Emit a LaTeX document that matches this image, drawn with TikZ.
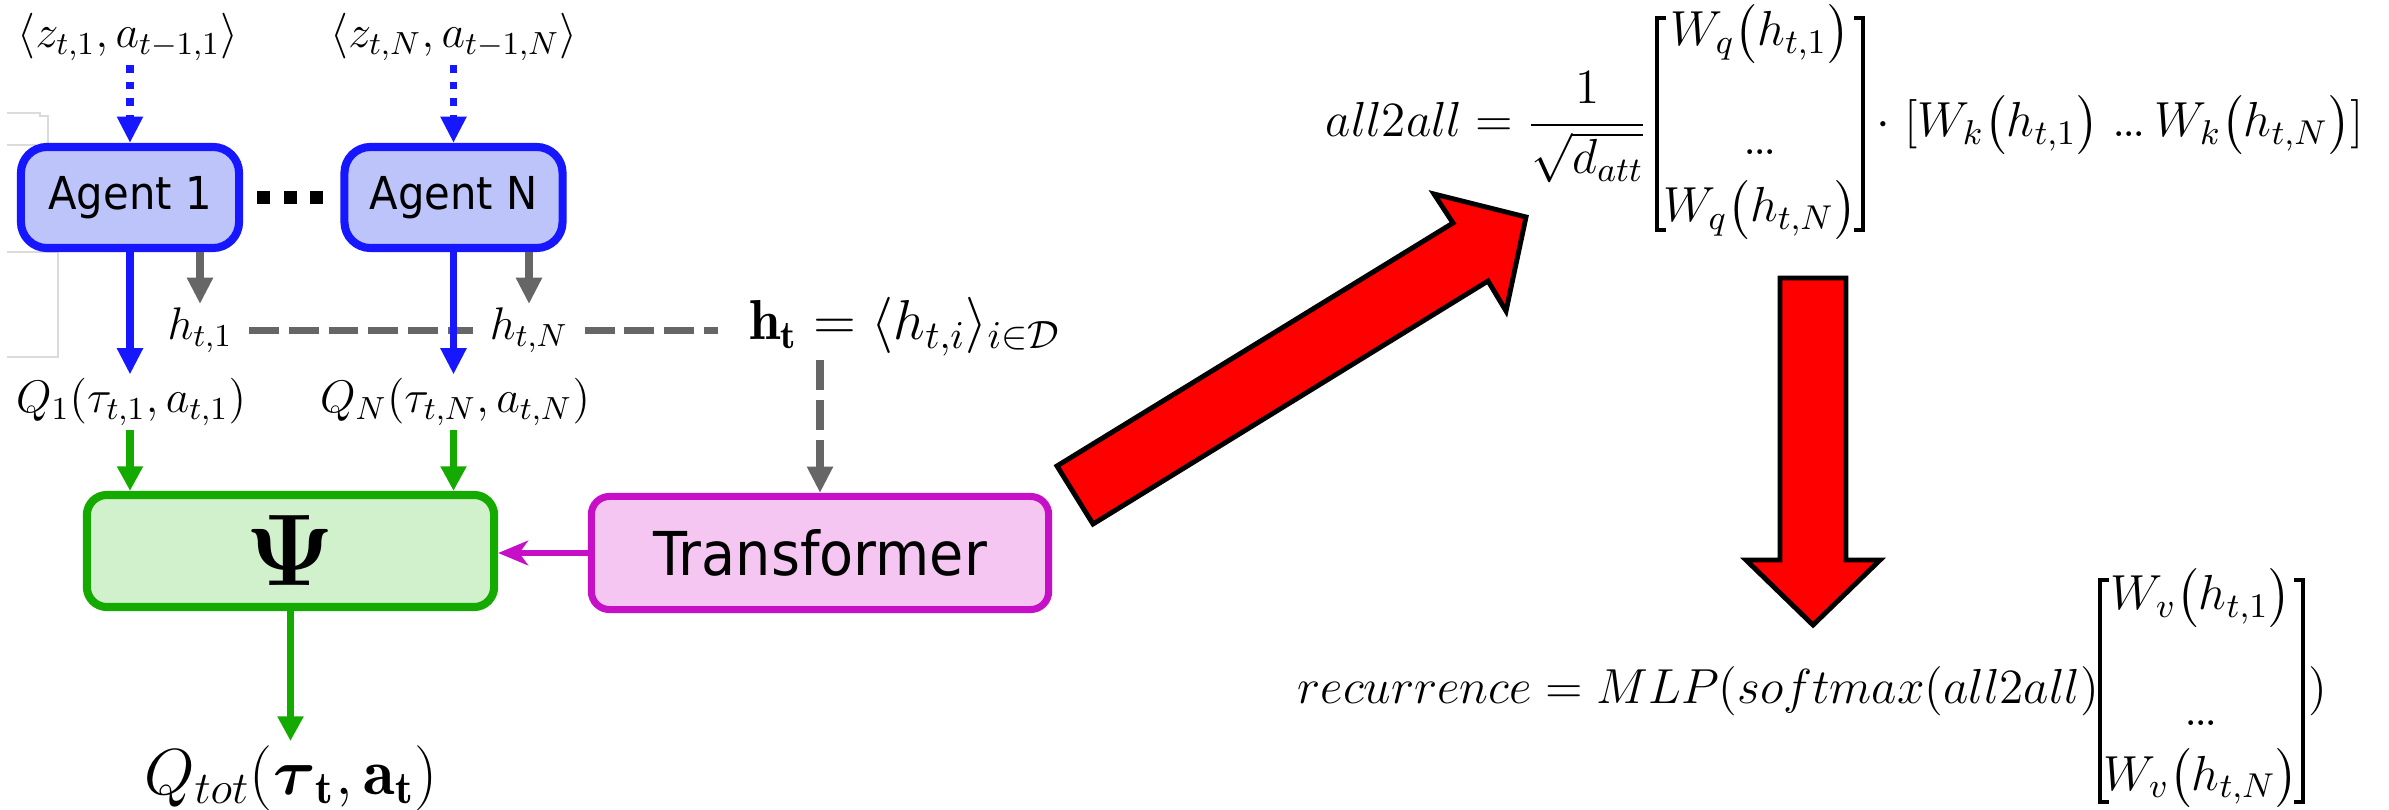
\RequirePackage{fix-cm}
\documentclass[tikz,border=0pt]{standalone}
\usepackage{amsmath, amssymb}
\usepackage{fontspec}
\usepackage{tikz}
\usetikzlibrary{arrows.meta, calc, positioning}
\newfontfamily\boxfont{DejaVu Sans}[FakeStretch=0.92]
\newcommand{\tightdots}{\mathord{.\mkern-1.2mu.\mkern-1.2mu.}}
\definecolor{agentblue}{HTML}{1616FF}
\definecolor{agentfill}{HTML}{BCC4FA}
\definecolor{mixgreen}{HTML}{14AA00}
\definecolor{mixfill}{HTML}{D0F1CB}
\definecolor{transmag}{HTML}{C70FC7}
\definecolor{transfill}{HTML}{F4C6F1}
\definecolor{hidgray}{HTML}{666666}
\definecolor{scangray}{gray}{0.86}
\tikzset{
  agentbox/.style   = {draw=agentblue, fill=agentfill, line width=2.3pt,
                       rounded corners=0.26cm, minimum width=2.18cm,
                       minimum height=1.01cm, inner sep=0pt,
                       font=\boxfont\fontsize{12.9}{15}\selectfont},
  mixbox/.style     = {draw=mixgreen, fill=mixfill, line width=2.3pt,
                       rounded corners=0.2cm, minimum width=4.07cm,
                       minimum height=1.12cm, inner sep=0pt,
                       font=\fontsize{29}{31}\selectfont},
  transbox/.style   = {draw=transmag, fill=transfill, line width=2pt,
                       rounded corners=0.18cm, minimum width=4.57cm,
                       minimum height=1.13cm, inner sep=0pt,
                       font=\boxfont\fontsize{17.2}{20}\selectfont},
  mlabel/.style     = {font=\fontsize{13}{15}\selectfont, inner sep=1pt},
  hidlabel/.style   = {mlabel, inner xsep=4.5pt},
  hlabel/.style     = {font=\fontsize{16}{19}\selectfont, inner sep=1pt},
  totlabel/.style   = {font=\fontsize{18.5}{22}\selectfont, inner sep=1pt},
  formula/.style    = {font=\fontsize{14}{17}\selectfont, inner sep=0pt},
  matbracket/.style = {draw=black, line width=0.9pt},
  obsarrow/.style   = {draw=agentblue, line width=2pt,
                       dash pattern=on 2.1pt off 2.6pt,
                       -{Triangle[width=7pt,length=7.5pt]}},
  qarrow/.style     = {draw=agentblue, line width=2pt,
                       -{Triangle[width=7pt,length=7.5pt]}},
  harrow/.style     = {draw=hidgray, line width=2pt,
                       -{Triangle[width=7pt,length=7.5pt]}},
  hiddenline/.style = {draw=hidgray, line width=2pt,
                       dash pattern=on 8.5pt off 2.8pt},
  mixarrow/.style   = {draw=mixgreen, line width=2pt,
                       -{Triangle[width=7pt,length=7pt]}},
  transarrow/.style = {draw=transmag, line width=1.5pt,
                       -{Stealth[width=7pt,length=8.5pt,inset=2.5pt]}},
  bigarrow/.style   = {fill=red, draw=black, line width=1.4pt,
                       line join=miter},
  scanline/.style   = {draw=scangray, line width=0.3pt},
}

\begin{document}
\begin{tikzpicture}[x=0.01cm, y=-0.01cm]
  \useasboundingbox (0,0) rectangle (2389,810);
  \draw[scanline] (7,113) -- (40,113) -- (40,116) -- (48,116) -- (48,143);
  \draw[scanline] (7,145) -- (36,145);
  \draw[scanline] (7,252) -- (58,252) -- (58,357) -- (7,357);

  \node[agentbox] (agentA) at (130,197.5) {Agent 1};
  \node[agentbox] (agentN) at (453.5,197.5) {Agent N};
  \foreach \x in {263,290,316}
    {\fill (\x-6.5,191.5) rectangle ++(13,13);}

  \node[mlabel, anchor=base] (obsA) at (128,48)
    {$\langle z_{t,1}, a_{t-1,1}\rangle$};
  \node[mlabel, anchor=base] (obsN) at (454,48)
    {$\langle z_{t,N}, a_{t-1,N}\rangle$};
  \node[hidlabel, anchor=base] (hA) at (200,340) {$h_{t,1}$};
  \node[hidlabel, anchor=base] (hN) at (529,340) {$h_{t,N}$};
  \node[hlabel, anchor=base west] (hT) at (745,340)
    {$\mathbf{h_t} = \langle h_{t,i}\rangle_{i\in\mathcal{D}}$};
  \node[mlabel, anchor=base] (qA) at (131,413) {$Q_1(\tau_{t,1}, a_{t,1})$};
  \node[mlabel, anchor=base] (qN) at (455,413) {$Q_N(\tau_{t,N}, a_{t,N})$};
  \node[mixbox] (mix) at (290.5,551) {$\boldsymbol{\Psi}$};
  \node[transbox] (trans) at (820,553) {Transformer};
  \node[totlabel, anchor=base] (qtot) at (291,794)
    {$Q_{tot}(\boldsymbol{\tau}_{\mathbf{t}}, \mathbf{a_t})$};
  \coordinate (hTend) at ($(hT.base west)+(-27,-12)$);

  \draw[obsarrow] (agentA.north |- obsA.south) -- (agentA.north);
  \draw[obsarrow] (agentN.north |- obsN.south) -- (agentN.north);
  \draw[hiddenline] (hA.east) -- (hN.west);
  \draw[hiddenline] (hN.east) -- (hN.east -| hTend);
  \draw[qarrow] (agentA.south) -- (agentA.south |- qA.north);
  \draw[qarrow] (agentN.south) -- (agentN.south |- qN.north);
  \draw[harrow] (hA.north |- agentA.south) -- (hA.north);
  \draw[harrow] (hN.north |- agentN.south) -- (hN.north);
  \draw[mixarrow] (agentA.south |- qA.south) -- (agentA.south |- mix.north);
  \draw[mixarrow] (agentN.south |- qN.south) -- (agentN.south |- mix.north);
  \draw[hiddenline, -{Triangle[width=7pt,length=7.5pt]}]
    (trans.north |- hT.south) -- (trans.north);
  \draw[transarrow] (trans.west) -- (trans.west -| mix.east);
  \draw[mixarrow] (mix.south) -- (mix.south |- qtot.north);

  \filldraw[bigarrow] (1057,466) -- (1453,223) -- (1434,194) -- (1526,217)
    -- (1506,311) -- (1488,281) -- (1093,524) -- cycle;
  \filldraw[bigarrow] (1780,278) -- (1846,278) -- (1846,560) -- (1880,560)
    -- (1813,625) -- (1746,560) -- (1780,560) -- cycle;

  \node[formula, anchor=base west] (lhsA) at (1325,137)
    {$all2all = \dfrac{1}{\sqrt{d_{att}}}$};
  \draw[matbracket] (1666,18) -- (1657,18) -- (1657,230) -- (1666,230);
  \draw[matbracket] (1854,18) -- (1863,18) -- (1863,230) -- (1854,230);
  \node[formula, anchor=base] (wqA) at (1760,46) {$W_q\bigl(h_{t,1}\bigr)$};
  \node[formula, anchor=base] (wqdots) at (1760,155) {$\tightdots$};
  \node[formula, anchor=base] (wqN) at (1760,222) {$W_q\bigl(h_{t,N}\bigr)$};
  \node[formula, anchor=base west] (rhsA) at (1876,137)
    {$\cdot\;[W_k\bigl(h_{t,1}\bigr)\;\tightdots\,W_k\bigl(h_{t,N}\bigr)]$};

  \node[formula, anchor=base west] (lhsR) at (1297,703)
    {$recurrence = MLP(softmax(all2all)$};
  \draw[matbracket] (2109,580) -- (2100,580) -- (2100,802) -- (2109,802);
  \draw[matbracket] (2294,580) -- (2303,580) -- (2303,802) -- (2294,802);
  \node[formula, anchor=base] (wvA) at (2201,610) {$W_v\bigl(h_{t,1}\bigr)$};
  \node[formula, anchor=base] (wvdots) at (2201,725) {$\tightdots$};
  \node[formula, anchor=base] (wvN) at (2201,790) {$W_v\bigl(h_{t,N}\bigr)$};
  \node[formula, anchor=base west] (rparR) at (2308,703) {$)$};
\end{tikzpicture}
\end{document}
